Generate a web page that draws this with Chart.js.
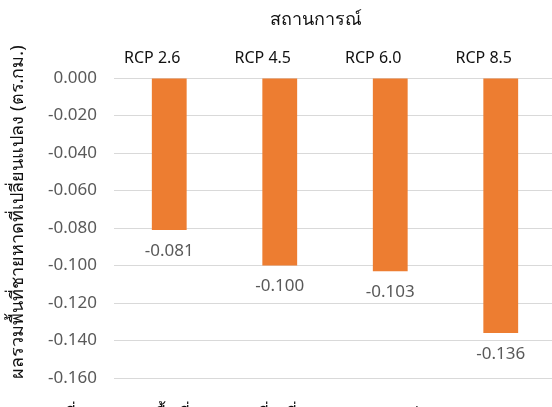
<!DOCTYPE html>
<html>
<head>
<meta charset="utf-8">
<script src="https://cdn.jsdelivr.net/npm/chart.js@4/dist/chart.umd.min.js"></script>
<style>
  html, body { margin: 0; padding: 0; background: #ffffff; overflow: hidden; }
  #wrap { position: relative; width: 552px; height: 407px; overflow: hidden; }
  #wrap canvas { position: absolute; left: 0; top: 0; }
</style>
</head>
<body>
<div id="wrap"><canvas id="c" width="556" height="407"></canvas></div>
<script>
// Scenario categories and changed beach area (sq. km)
const scenarios = ['RCP 2.6', 'RCP 4.5', 'RCP 6.0', 'RCP 8.5'];
const areaChange = [-0.081, -0.100, -0.103, -0.136];
const axisMin = -0.16;
const axisMax = 0;
const axisStep = 0.02;

const xTitle = 'สถานการณ์';
const yTitle = 'ผลรวมพื้นที่ชายหาดที่เปลี่ยนแปลง (ตร.กม.)';
const caption = 'รูปที่ 9  ผลรวมพื้นที่ชายหาดที่เปลี่ยนแปลงของแต่ละ RCP';

const FONT = "'Noto Sans', 'DejaVu Sans', sans-serif";

// Value labels under each bar, the axis headings and the figure caption
const annotate = {
  id: 'annotate',
  afterDatasetsDraw(chart) {
    const ctx = chart.ctx;
    const meta = chart.getDatasetMeta(0);
    ctx.save();
    ctx.fillStyle = '#595959';
    ctx.font = '17px ' + FONT;
    ctx.textAlign = 'center';
    ctx.textBaseline = 'middle';
    meta.data.forEach((bar, i) => {
      ctx.fillText(areaChange[i].toFixed(3), bar.x, bar.y + 21);
    });
    const area = chart.chartArea;
    ctx.fillStyle = '#111111';
    ctx.font = '18px ' + FONT;
    ctx.fillText(xTitle, area.left + (area.right - area.left) * 0.458, 20);

    ctx.save();
    ctx.translate(18, 212);
    ctx.rotate(-Math.PI / 2);
    ctx.font = '18px ' + FONT;
    ctx.fillText(yTitle, 0, 0);
    ctx.restore();

    ctx.textAlign = 'left';
    ctx.textBaseline = 'alphabetic';
    ctx.font = '18px ' + FONT;
    ctx.fillText(caption, 43, 420);
    ctx.restore();
  }
};

new Chart(document.getElementById('c'), {
  type: 'bar',
  data: {
    labels: scenarios,
    datasets: [{
      data: areaChange,
      backgroundColor: '#ed7d31',
      borderWidth: 0,
      categoryPercentage: 1,
      barPercentage: 0.315
    }]
  },
  options: {
    responsive: false,
    animation: false,
    layout: { padding: { left: 0, right: 0, top: 0, bottom: 29 } },
    plugins: { legend: { display: false }, tooltip: { enabled: false } },
    scales: {
      x: {
        position: 'top',
        grid: { display: false },
        border: { display: false },
        ticks: { color: '#111111', font: { family: FONT, size: 16 }, padding: 2, labelOffset: -17 },
        afterFit(scale) { scale.height = 78; }
      },
      y: {
        min: axisMin,
        max: axisMax,
        grid: { color: '#d9d9d9', lineWidth: 1, drawTicks: false },
        border: { display: false },
        ticks: {
          stepSize: axisStep,
          color: '#595959',
          font: { family: FONT, size: 17 },
          padding: 17,
          callback: v => Number(v).toFixed(3)
        },
        afterFit(scale) { scale.width = 114; }
      }
    }
  },
  plugins: [annotate]
});
</script>
</body>
</html>
